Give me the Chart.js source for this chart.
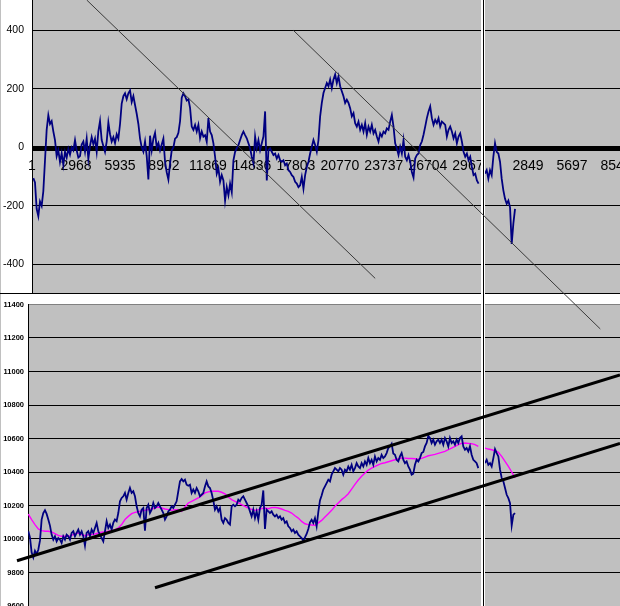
<!DOCTYPE html>
<html>
<head>
<meta charset="utf-8">
<script src="https://cdn.jsdelivr.net/npm/chart.js@4.4.0/dist/chart.umd.min.js"></script>
<style>
  html, body { margin: 0; padding: 0; background: #fff; overflow: hidden; }
  #page { position: relative; width: 620px; height: 606px; overflow: hidden; }
  canvas { position: absolute; }
  #oscLeft { left: 0; top: 0; }
  #oscRight { left: 484px; top: 0; }
  #priceLeft { left: 0; top: 294px; }
  #priceRight { left: 484px; top: 294px; }
  #overlay { left: 0; top: 0; z-index: 3; pointer-events: none; }
  .rule { position: absolute; z-index: 2; }
</style>
</head>
<body>
<div id="page">
  <canvas id="oscLeft" width="482" height="294"></canvas>
  <canvas id="oscRight" width="136" height="294"></canvas>
  <canvas id="priceLeft" width="482" height="346"></canvas>
  <canvas id="priceRight" width="136" height="346"></canvas>
  <div class="rule" style="left:0;top:0;width:1px;height:606px;background:#c0c0c0"></div>
  <div class="rule" style="left:0;top:293px;width:620px;height:1px;background:#000"></div>
  <div class="rule" style="left:481px;top:0;width:4px;height:606px;background:#fff"></div>
  <div class="rule" style="left:483px;top:0;width:1px;height:606px;background:#000"></div>
  <canvas id="overlay" width="620" height="606"></canvas>
</div>
<script>
// oscillator, left window (one value every 112.5 days, starting day 90)
const oscLeft = [
  -105,-120,-210,-235,-185,-200,-150,-45,60,110,
  80,90,55,25,-30,-10,-50,-20,-60,-15,
  -35,-5,-25,0,-10,25,-10,-35,-30,10,
  20,-15,30,-40,5,35,10,30,-15,55,
  90,25,5,-15,20,85,45,20,35,15,
  45,30,80,150,175,185,165,185,195,155,
  175,145,115,80,30,0,-15,20,-30,-110,
  40,-10,30,50,0,15,-10,10,30,-50,
  -85,-110,-55,-10,0,30,35,50,90,170,
  185,175,160,165,135,
  71,60,77,54,77,31,54,37,42,19,
  100,54,42,14,-32,-90,-72,-118,-95,-113,
  -182,-136,-164,-124,-153,-44,-15,-3,8,25,
  42,54,42,31,14,-3,-32,-55,37,-3,
  25,-9,14,37,123,-113,-9,-3,-15,-26,
  -21,-38,-26,-44,-49,-44,-61,-55,-78,-84,
  -95,-101,-118,-124,-136,-130,-101,-141,-95,-67,
  -49,-21,2,25,8,-15,25,106,152,186,
  203,220,209,232,203,232,249,220,243,209,
  192,175,152,
  163,152,134,106,117,83,71,88,60,77,
  54,83,43,71,54,77,48,60,37,20,
  48,37,54,48,65,60,88,111,71,14,
  -3,-26,2,-21,25,-32,-44,-26,-49,-84,
  -103,-38,-26,-21,8,20,43,71,100,123,
  140,100,77,94,83,100,71,88,83,77,
  37,60,71,54,31,48,14,37,48,20,
  -15,-32,-21,-44,-32,-67,-95,-90,-113,-124
];
// oscillator, right window (every 108 days from day 66)
const oscRight = [-90,-78,-107,-78,-95,-32,14,-15,-21,-49,-107,-147,-176,-193,-182,-205,-330,-260,-210];

// price, left window (every 112.5 days from day 21)
const priceLeft = [
  10046,10010,9920,9890,9930,9910,9936,9990,10116,10155,
  10172,10150,10116,10080,10026,9996,10016,9986,10006,9996,
  9976,10016,9996,10026,10016,9996,10036,10046,10016,10036,
  10056,10026,10046,10016,9960,10036,10046,10016,10056,10036,
  10066,10096,10046,10026,10006,9986,10046,10106,10066,10086,
  10056,10096,10116,10106,10155,10225,10245,10255,10275,10235,
  10275,10305,10275,10285,10255,10195,10155,10135,10175,10185,
  10050,10185,10205,10155,10175,10215,10185,10195,10215,10195,
  10175,10155,10116,10135,10165,10175,10195,10185,10205,10225,
  10285,10344,10358,10344,10354,10324,10318,10324,
  10275,10295,10275,10304,10285,10255,10265,10275,10314,10344,
  10314,10304,10275,10230,10175,10195,10165,10185,10115,10096,
  10125,10115,10096,10086,10195,10205,10195,10205,10235,10225,
  10245,10255,10235,10215,10195,10165,10135,10175,10125,10165,
  10115,10185,10205,10290,10060,10175,10165,10155,10165,10145,
  10135,10145,10125,10135,10115,10125,10096,10105,10076,10066,
  10046,10056,10036,10046,10026,10016,10006,9990,10010,10030,
  10060,10100,10115,10096,10125,10076,10160,10230,10260,10295,
  10314,10334,10354,10344,10384,10404,10424,10414,10404,10424,
  10414,10384,10414,
  10404,10433,10414,10443,10404,10423,10453,10433,10423,10453,
  10433,10463,10443,10483,10453,10473,10443,10493,10463,10483,
  10473,10503,10483,10493,10513,10543,10553,10569,10510,10503,
  10473,10463,10493,10513,10473,10453,10463,10433,10414,10384,
  10390,10443,10473,10463,10483,10513,10520,10553,10573,10615,
  10603,10573,10593,10563,10583,10593,10573,10593,10563,10603,
  10583,10553,10603,10573,10583,10563,10593,10573,10603,10613,
  10553,10533,10543,10523,10553,10503,10473,10463,10453,10423
];
const priceRight = [10453,10473,10443,10453,10433,10483,10537,10513,10493,10414,10364,10344,10304,10264,10244,10214,10080,10145,10155];

// moving average (every 225 days from day 21 / every 216 days from day 66)
const avgLeft = [
  10149,10116,10086,10060,10050,10046,10046,10042,10032,10022,
  10016,10016,10016,10022,10032,10036,10026,10020,10026,10026,
  10030,10036,10040,10044,10046,10050,10056,10066,10086,10116,
  10135,10151,10159,10163,10167,10171,10175,10179,10185,10191,
  10185,10179,10175,10171,10175,10175,10165,10191,10215,
  10225,10235,10245,10259,10275,10281,10285,10285,10285,10279,
  10269,10251,10235,10225,10215,10205,10195,10185,10177,10171,
  10175,10181,10185,10181,10187,10189,10185,10179,10171,10165,
  10155,10139,10125,10105,10091,10086,10084,10082,10096,10111,
  10131,10151,10171,10195,10215,10235,10251,
  10270,10298,10326,10352,10374,10394,10411,10423,10433,10443,
  10451,10455,10461,10467,10473,10479,10483,10483,10481,10481,
  10479,10477,10481,10489,10497,10501,10505,10511,10517,10523,
  10533,10543,10553,10563,10571,10573,10571,10569,10563,10553
];
const avgRight = [10543,10537,10533,10527,10517,10493,10463,10433,10400,10365];

// tick labels
const oscTicks = [-400, -200, 0, 200, 400];
const priceTicks = [9400, 9600, 9800, 10000, 10200, 10400, 10600, 10800, 11000, 11200, 11400];
const dayTicksLeft = [1, 2968, 5935, 8902, 11869, 14836, 17803, 20770, 23737, 26704, 29671];
const dayTicksRight = [2849, 5697, 8545];

// trend lines drawn over the charts, [day, value]
const oscLineA = [[3693, 504], [23154, -448]];
const oscLineB = [[17639, 400], [38341, -621]];
const priceLineUpper = [[-742, 9870], [39961, 10979]];
const priceLineLower = [[8574, 9709], [39961, 10571]];

Chart.defaults.font.family = '"Liberation Sans", Arial, sans-serif';
Chart.defaults.color = '#000';

const pts = (vals, start, step) => vals.map((v, i) => ({ x: start + i * step, y: v }));
const noPad = s => { s.paddingLeft = 0; s.paddingRight = 0; s.paddingTop = 0; s.paddingBottom = 0; };
const fixWidth = w => s => { s.width = w; noPad(s); };
const fixHeight = h => s => { s.height = h; noPad(s); };
const setTicks = list => s => { s.ticks = list.map(v => ({ value: v })); };

const plotBg = {
  id: 'plotBg',
  beforeDraw(chart) {
    const a = chart.chartArea, c = chart.ctx;
    c.save();
    c.fillStyle = '#c0c0c0';
    c.fillRect(a.left, a.top, a.right - a.left, a.bottom - a.top);
    c.restore();
  }
};

const zeroBar = {
  id: 'zeroBar',
  beforeDatasetsDraw(chart) {
    const a = chart.chartArea, c = chart.ctx;
    const y0 = Math.round(chart.scales.y.getPixelForValue(0));
    c.save();
    c.fillStyle = '#000';
    c.fillRect(a.left, y0 - 1, a.right - a.left, 5);
    c.restore();
  }
};

function oscChart(id, vals, start, step, xMax, xTicks, axisWidth) {
  return new Chart(document.getElementById(id), {
    type: 'line',
    data: {
      datasets: [{ data: pts(vals, start, step), borderColor: '#000080', borderWidth: 1.8, pointRadius: 0, tension: 0 }]
    },
    options: {
      responsive: false, animation: false, events: [],
      layout: { padding: { top: 0, left: 0, right: 0, bottom: 1 } },
      plugins: { legend: { display: false }, tooltip: { enabled: false } },
      scales: {
        x: {
          type: 'linear', min: 1, max: xMax, position: { y: 0 },
          afterBuildTicks: setTicks(xTicks), afterFit: fixHeight(0),
          grid: { display: false, drawTicks: true, tickLength: 10 },
          border: { display: false },
          ticks: { font: { size: 14 }, padding: 0, maxRotation: 0, autoSkip: false, callback: v => String(v) }
        },
        y: {
          min: -498, max: 504,
          afterBuildTicks: setTicks(oscTicks), afterFit: fixWidth(axisWidth),
          grid: { color: '#000', drawTicks: false },
          border: { display: axisWidth > 0, color: '#000' },
          ticks: { display: axisWidth > 0, font: { size: 10.5 }, padding: 8, callback: v => String(v) }
        }
      }
    },
    plugins: [plotBg, zeroBar]
  });
}

function priceChart(id, raw, rawStart, rawStep, avg, avgStart, avgStep, xMax, axisWidth) {
  return new Chart(document.getElementById(id), {
    type: 'line',
    data: {
      datasets: [
        { data: pts(raw, rawStart, rawStep), borderColor: '#000080', borderWidth: 1.8, pointRadius: 0, tension: 0 },
        { data: pts(avg, avgStart, avgStep), borderColor: '#ff00ff', borderWidth: 1.4, pointRadius: 0, tension: 0 }
      ]
    },
    options: {
      responsive: false, animation: false, events: [],
      layout: { padding: { top: 10.5, left: 0, right: 0, bottom: 0.5 } },
      plugins: { legend: { display: false }, tooltip: { enabled: false } },
      scales: {
        x: {
          type: 'linear', min: 1, max: xMax,
          afterFit: fixHeight(0),
          grid: { display: false }, border: { display: false }, ticks: { display: false }
        },
        y: {
          min: 9400, max: 11400,
          afterBuildTicks: setTicks(priceTicks), afterFit: fixWidth(axisWidth),
          grid: { color: c => (c.tick && c.tick.value === 11400 ? '#808080' : '#000'), drawTicks: false },
          border: { display: axisWidth > 0, color: '#000' },
          ticks: { display: axisWidth > 0, font: { size: 7.5, weight: 'bold' }, padding: 4, callback: v => String(v) }
        }
      }
    },
    plugins: [plotBg]
  });
}

const oscL = oscChart('oscLeft', oscLeft, 90, 112.5, 30360, dayTicksLeft, 32);
oscChart('oscRight', oscRight, 66, 108, 8804, dayTicksRight, 0);
const priceL = priceChart('priceLeft', priceLeft, 21, 112.5, avgLeft, 21, 225, 30646, 28);
priceChart('priceRight', priceRight, 66, 108, avgRight, 66, 216, 8804, 0);

// overlay uses the same units as the left charts
const PRICE_TOP = 294;
const asPts = list => list.map(([x, y]) => ({ x, y }));
const trend = (list, xId, yId, color, width) => ({
  data: asPts(list), xAxisID: xId, yAxisID: yId,
  borderColor: color, borderWidth: width, pointRadius: 0, clip: false
});

new Chart(document.getElementById('overlay'), {
  type: 'line',
  data: {
    datasets: [
      trend(oscLineA, 'xo', 'yo', '#3a3a3a', 1),
      trend(oscLineB, 'xo', 'yo', '#3a3a3a', 1),
      trend(priceLineUpper, 'xp', 'yp', '#000', 3),
      trend(priceLineLower, 'xp', 'yp', '#000', 3)
    ]
  },
  options: {
    responsive: false, animation: false, events: [],
    layout: { padding: 0 },
    plugins: { legend: { display: false }, tooltip: { enabled: false } },
    scales: {
      xo: { type: 'linear', display: false, min: oscL.scales.x.getValueForPixel(0), max: oscL.scales.x.getValueForPixel(620) },
      yo: { type: 'linear', display: false, min: oscL.scales.y.getValueForPixel(606), max: oscL.scales.y.getValueForPixel(0) },
      xp: { type: 'linear', display: false, min: priceL.scales.x.getValueForPixel(0), max: priceL.scales.x.getValueForPixel(620) },
      yp: { type: 'linear', display: false, min: priceL.scales.y.getValueForPixel(606 - PRICE_TOP), max: priceL.scales.y.getValueForPixel(-PRICE_TOP) }
    }
  }
});
</script>
</body>
</html>
